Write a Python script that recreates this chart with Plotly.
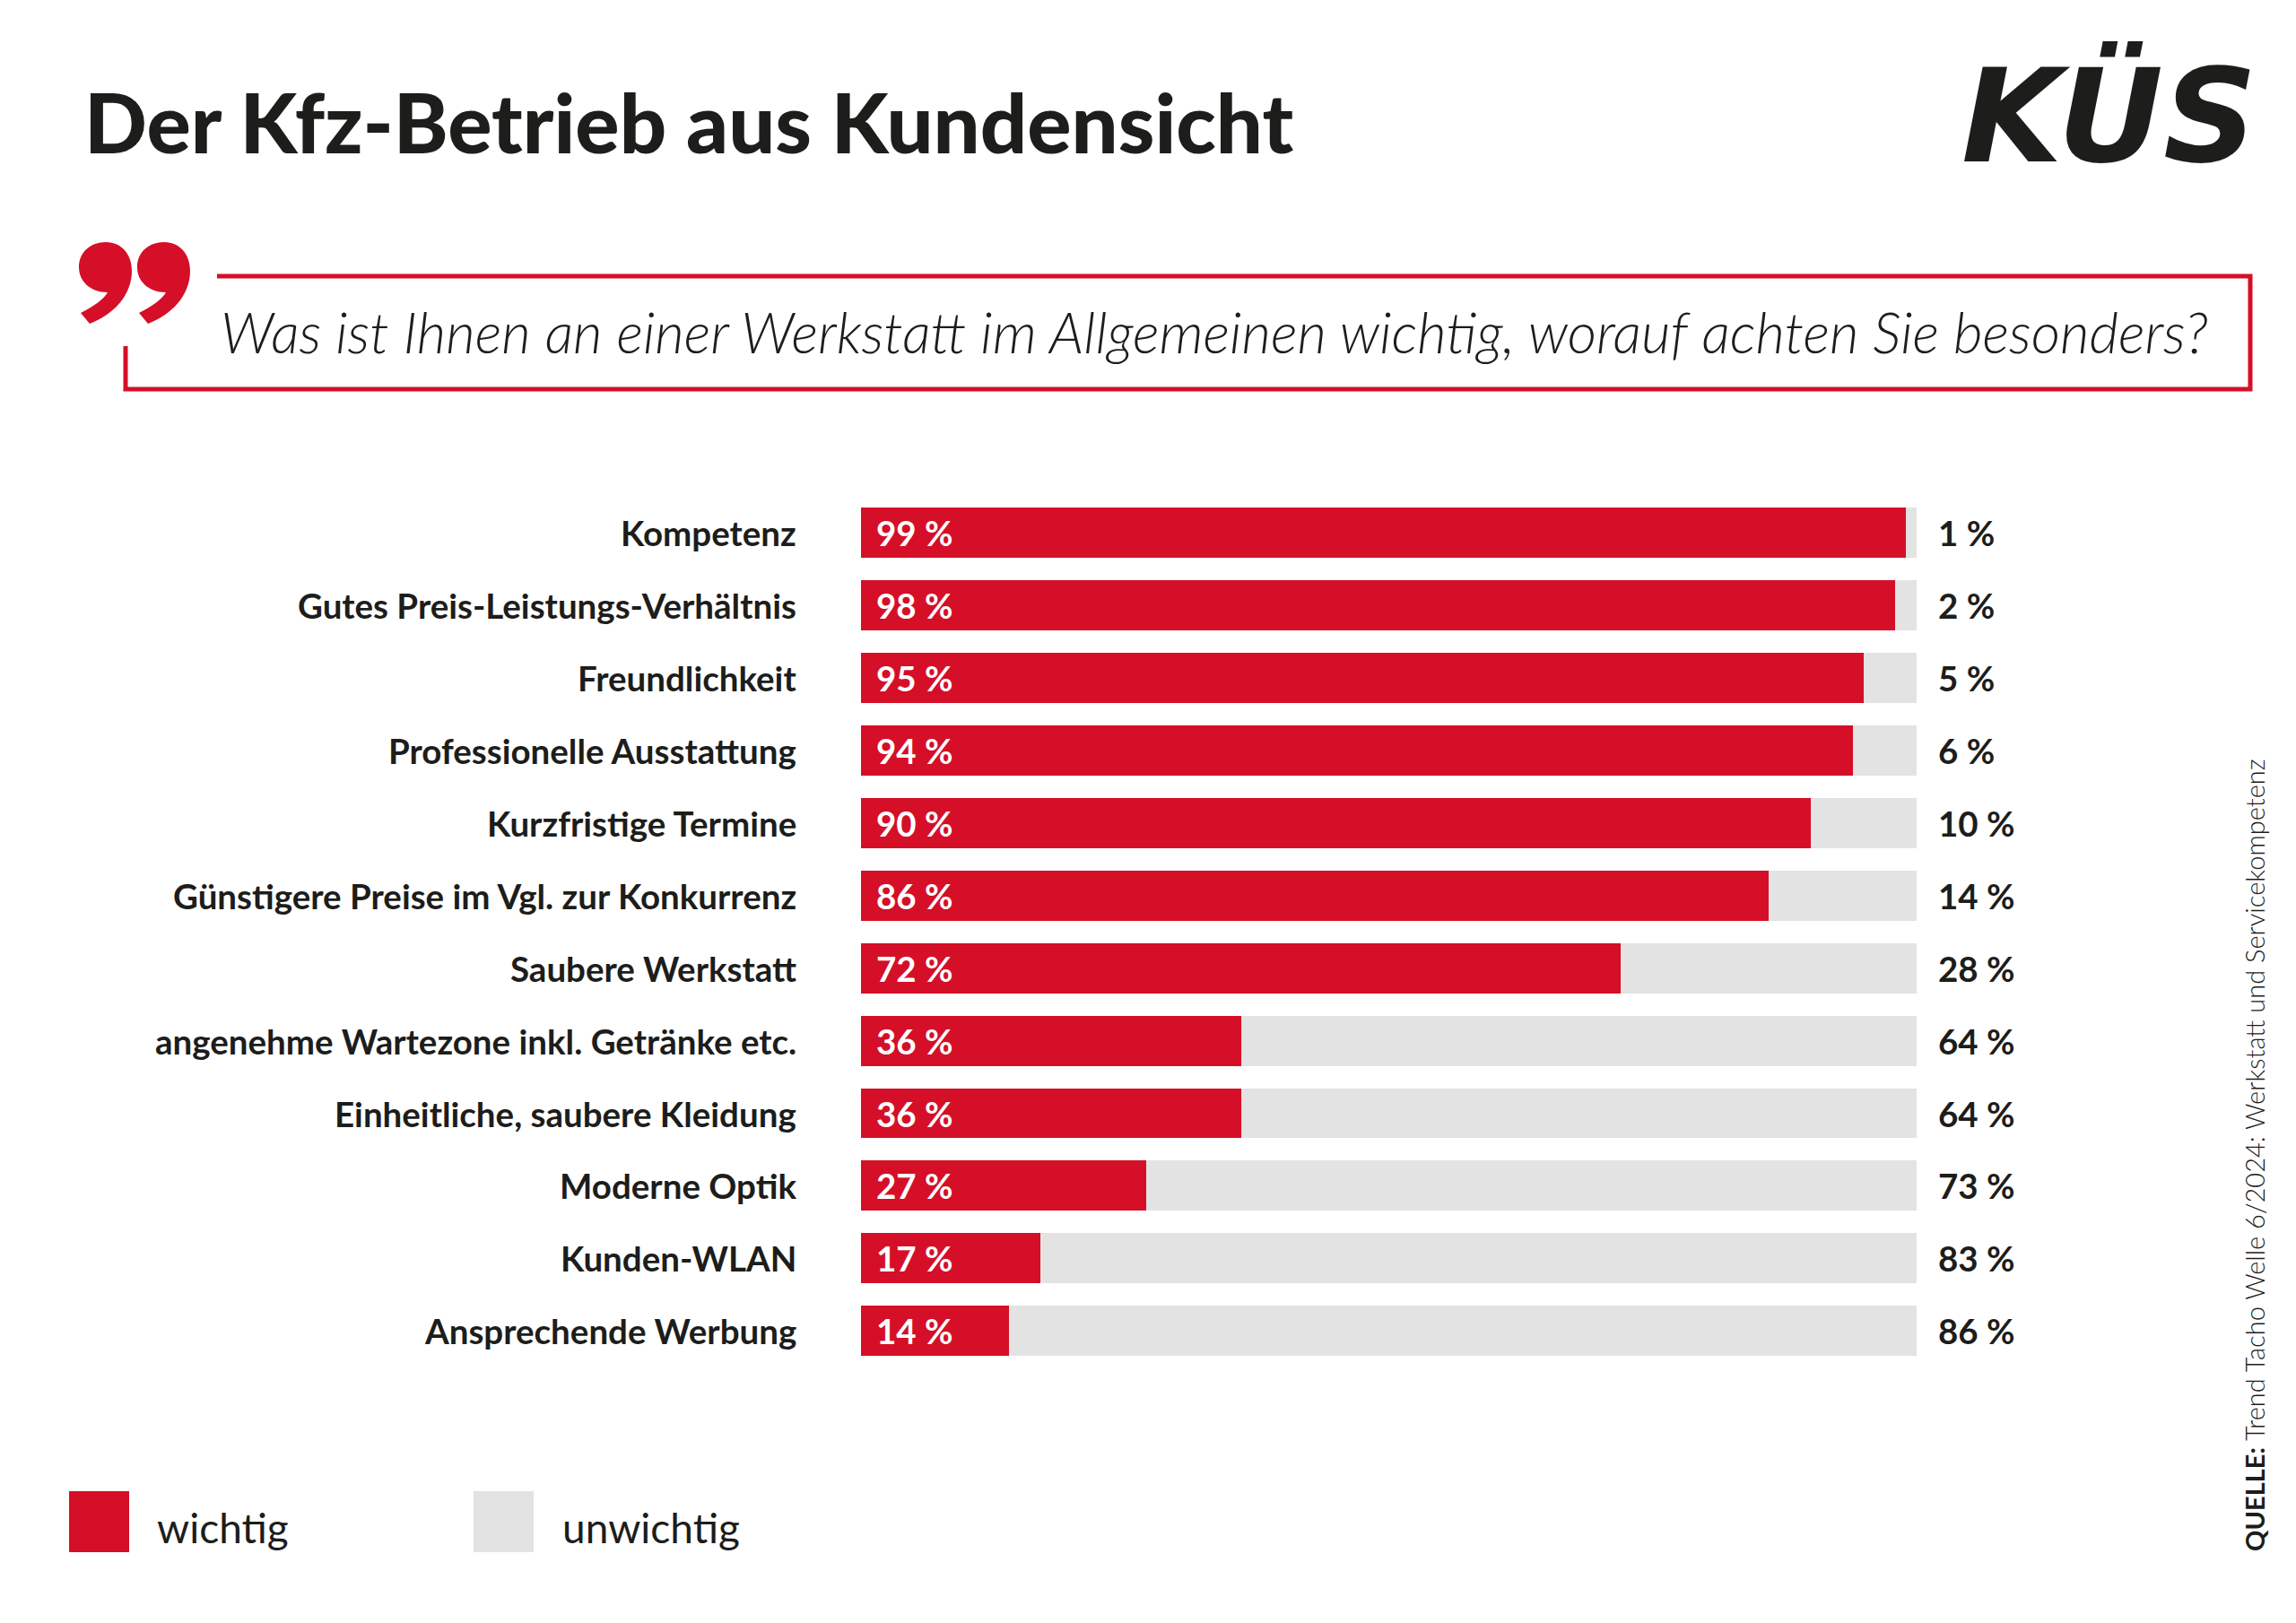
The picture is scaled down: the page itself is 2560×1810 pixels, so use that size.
import plotly.graph_objects as go

# survey answers, top to bottom
kategorien = [
    "Kompetenz",
    "Gutes Preis-Leistungs-Verhältnis",
    "Freundlichkeit",
    "Professionelle Ausstattung",
    "Kurzfristige Termine",
    "Günstigere Preise im Vgl. zur Konkurrenz",
    "Saubere Werkstatt",
    "angenehme Wartezone inkl. Getränke etc.",
    "Einheitliche, saubere Kleidung",
    "Moderne Optik",
    "Kunden-WLAN",
    "Ansprechende Werbung",
]
wichtig = [99, 98, 95, 94, 90, 86, 72, 36, 36, 27, 17, 14]
unwichtig = [1, 2, 5, 6, 10, 14, 28, 64, 64, 73, 83, 86]

W, H = 2560, 1810
ROT = "#D50F27"
GRAU = "#E3E3E3"
SCHWARZ = "#1D1D1B"
FONT = "Lato"


def px(x):
    return x / W


def py(y):
    return 1 - y / H


def pt(x, y):
    return f"{px(x):.5f},{py(y):.5f}"


def komma(dx):
    # one "9"-shaped quote comma, drawn in pixel space and shifted by dx
    p = lambda x, y: pt(x + dx, y)
    return (f"M {p(110, 262)} "
            f"C {p(128, 262)} {p(139, 276)} {p(139, 294)} "
            f"C {p(139, 322)} {p(118, 343)} {p(92, 353)} "
            f"L {p(82, 341)} "
            f"C {p(98, 333)} {p(108, 325)} {p(112, 318)} "
            f"C {p(92, 318)} {p(80, 305)} {p(80, 290)} "
            f"C {p(80, 273)} {p(93, 262)} {p(110, 262)} Z")


fig = go.Figure()

fig.add_trace(go.Bar(
    y=kategorien, x=wichtig, orientation="h",
    marker=dict(color=ROT, line=dict(width=0)),
    name="wichtig", hoverinfo="skip",
))
fig.add_trace(go.Bar(
    y=kategorien, x=unwichtig, orientation="h",
    marker=dict(color=GRAU, line=dict(width=0)),
    name="unwichtig", hoverinfo="skip",
))

annotations = []
for kat, w, u in zip(kategorien, wichtig, unwichtig):
    # category label left of the bar
    annotations.append(dict(
        x=0, y=kat, xref="x", yref="y", text=kat, showarrow=False,
        xanchor="right", yanchor="middle", xshift=-70,
        font=dict(family=FONT, size=38.5, color=SCHWARZ, weight="bold"),
    ))
    # value inside the red bar
    annotations.append(dict(
        x=0, y=kat, xref="x", yref="y", text=f"{w} %", showarrow=False,
        xanchor="left", yanchor="middle", xshift=15,
        font=dict(family=FONT, size=38.5, color="white", weight="bold"),
    ))
    # remaining share right of the bar
    annotations.append(dict(
        x=w + u, y=kat, xref="x", yref="y", text=f"{u} %", showarrow=False,
        xanchor="left", yanchor="middle", xshift=22,
        font=dict(family=FONT, size=38.5, color=SCHWARZ, weight="bold"),
    ))

# header texts
annotations += [
    dict(x=px(84), y=py(127), xref="paper", yref="paper",
         text="Der Kfz-Betrieb aus Kundensicht", showarrow=False,
         xanchor="left", yanchor="middle",
         font=dict(family=FONT, size=92, color=SCHWARZ, weight=900)),
    dict(x=px(2510), y=py(122), xref="paper", yref="paper",
         text="KÜS", showarrow=False, xanchor="right", yanchor="middle",
         font=dict(family="DejaVu Sans", size=145, color=SCHWARZ,
                   weight="bold", style="italic")),
    dict(x=px(236), y=py(362), xref="paper", yref="paper",
         text="Was ist Ihnen an einer Werkstatt im Allgemeinen wichtig, worauf achten Sie besonders?",
         showarrow=False, xanchor="left", yanchor="middle",
         font=dict(family=FONT, size=63, color=SCHWARZ, weight=300, style="italic")),
]

# legend
annotations += [
    dict(x=px(165), y=py(1695), xref="paper", yref="paper", text="wichtig",
         showarrow=False, xanchor="left", yanchor="middle",
         font=dict(family=FONT, size=46, color=SCHWARZ)),
    dict(x=px(617), y=py(1695), xref="paper", yref="paper", text="unwichtig",
         showarrow=False, xanchor="left", yanchor="middle",
         font=dict(family=FONT, size=46, color=SCHWARZ)),
]

# source, rotated
annotations.append(dict(
    x=px(2505), y=py(1280), xref="paper", yref="paper",
    text="<b>QUELLE:</b> Trend Tacho Welle 6/2024: Werkstatt und Servicekompetenz",
    showarrow=False, textangle=-90, xanchor="center", yanchor="middle",
    font=dict(family=FONT, size=29, color=SCHWARZ, weight=300),
))

# question box outline and quote mark
box = (f"M {pt(234, 300)} L {pt(2501, 300)} L {pt(2501, 426)} "
       f"L {pt(132, 426)} L {pt(132, 378)}")
shapes = [
    dict(type="path", xref="paper", yref="paper", path=box,
         line=dict(color=ROT, width=5)),
    dict(type="path", xref="paper", yref="paper", path=komma(0),
         fillcolor=ROT, line=dict(width=0)),
    dict(type="path", xref="paper", yref="paper", path=komma(65),
         fillcolor=ROT, line=dict(width=0)),
    dict(type="rect", xref="paper", yref="paper",
         x0=px(69), x1=px(136), y0=py(1723), y1=py(1655),
         fillcolor=ROT, line=dict(width=0)),
    dict(type="rect", xref="paper", yref="paper",
         x0=px(520), x1=px(587), y0=py(1723), y1=py(1655),
         fillcolor=GRAU, line=dict(width=0)),
]

row = 80.9
top = 586.3 - row / 2
bottom = top + row * len(kategorien)

fig.update_layout(
    width=W, height=H, autosize=False,
    margin=dict(l=0, r=0, t=0, b=0),
    paper_bgcolor="white", plot_bgcolor="white",
    barmode="stack", bargap=0.31,
    showlegend=False,
    xaxis=dict(domain=[px(952), px(2129)], range=[0, 100], visible=False, fixedrange=True),
    yaxis=dict(domain=[py(bottom), py(top)], categoryorder="array",
               categoryarray=kategorien, range=[len(kategorien) - 0.5, -0.5],
               visible=False, fixedrange=True),
    annotations=annotations,
    shapes=shapes,
)

fig.write_html("out.html")
